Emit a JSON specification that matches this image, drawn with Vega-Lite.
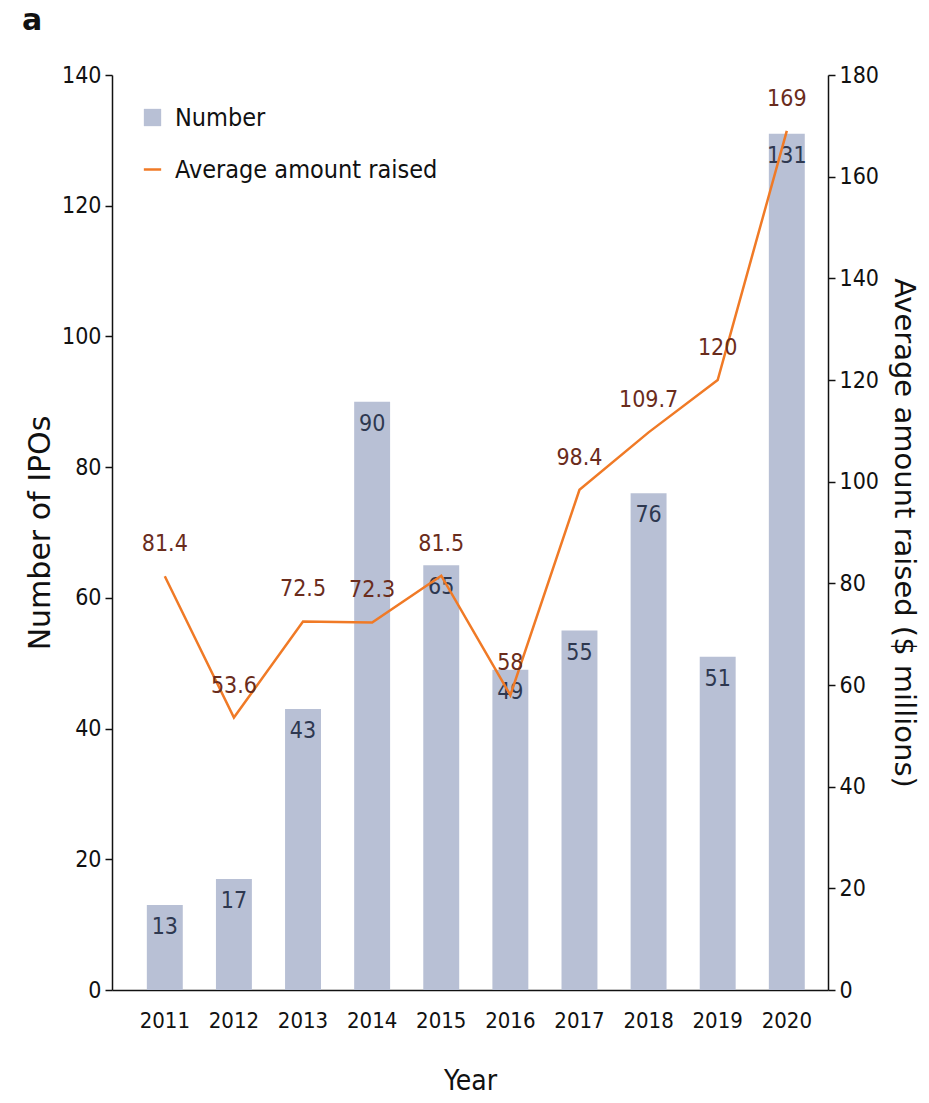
{
  "$schema": "https://vega.github.io/schema/vega-lite/v6.json",
  "width": 716,
  "height": 915,
  "autosize": {"type": "none"},
  "padding": {"left": 112, "top": 75, "right": 101, "bottom": 113},
  "background": "white",
  "title": {"text": "a", "anchor": "start", "frame": "group", "dx": -90, "offset": 28, "fontSize": 30, "fontWeight": "bold", "font": "DejaVu Sans", "color": "#111111"},
  "config": {
    "font": "DejaVu Sans Condensed, Liberation Sans",
    "view": {"stroke": null},
    "axis": {"labelFont": "DejaVu Sans Condensed, Liberation Sans", "titleFont": "DejaVu Sans Condensed, Liberation Sans", "labelFontSize": 23, "titleFontSize": 27, "titleFontWeight": "normal", "labelColor": "#111111", "titleColor": "#111111", "domainColor": "#111111", "tickColor": "#111111", "domainWidth": 1.5, "tickWidth": 1.5, "tickSize": 7, "grid": false},
    "legend": {"labelFont": "DejaVu Sans Condensed, Liberation Sans", "labelFontSize": 25, "labelColor": "#111111", "labelLimit": 500}
  },
  "data": {"values": [
    {"Year": "2011", "Number": 13, "Avg": 81.4},
    {"Year": "2012", "Number": 17, "Avg": 53.6},
    {"Year": "2013", "Number": 43, "Avg": 72.5},
    {"Year": "2014", "Number": 90, "Avg": 72.3},
    {"Year": "2015", "Number": 65, "Avg": 81.5},
    {"Year": "2016", "Number": 49, "Avg": 58},
    {"Year": "2017", "Number": 55, "Avg": 98.4},
    {"Year": "2018", "Number": 76, "Avg": 109.7},
    {"Year": "2019", "Number": 51, "Avg": 120},
    {"Year": "2020", "Number": 131, "Avg": 169}
  ]},
  "encoding": {
    "x": {"field": "Year", "type": "ordinal", "scale": {"paddingInner": 0.48, "paddingOuter": 0.42, "align": 0.6}, "axis": {"labelAngle": 0, "title": "Year", "titleFontSize": 28, "titlePadding": 36, "ticks": false, "labelPadding": 20, "labelFontSize": 22}}
  },
  "layer": [
    {
      "layer": [
        {
          "mark": {"type": "bar"},
          "encoding": {
            "y": {"field": "Number", "type": "quantitative", "scale": {"domain": [0, 140], "nice": false}, "axis": {"orient": "left", "title": "Number of IPOs", "titleFont": "DejaVu Sans, Liberation Sans", "titleFontSize": 30, "values": [0, 20, 40, 60, 80, 100, 120, 140], "titlePadding": 6, "labelPadding": 4}},
            "fill": {"datum": "Number", "type": "nominal", "scale": {"range": ["#b8c0d5"]}, "legend": {"title": null, "orient": "none", "legendX": 28, "legendY": 30, "symbolType": "square", "symbolSize": 300, "symbolStrokeWidth": 0, "labelOffset": 10}}
          }
        },
        {
          "mark": {"type": "text", "baseline": "top", "dy": 11, "fontSize": 23, "color": "#2e3850"},
          "encoding": {
            "y": {"field": "Number", "type": "quantitative"},
            "text": {"field": "Number", "type": "quantitative"}
          }
        }
      ]
    },
    {
      "layer": [
        {
          "mark": {"type": "line", "strokeWidth": 2.5},
          "encoding": {
            "y": {"field": "Avg", "type": "quantitative", "scale": {"domain": [0, 180], "nice": false}, "axis": {"orient": "right", "title": "Average amount raised ($ millions)", "titleFont": "DejaVu Sans, Liberation Sans", "titleFontSize": 29, "values": [0, 20, 40, 60, 80, 100, 120, 140, 160, 180], "titlePadding": 10, "labelPadding": 4}},
            "stroke": {"datum": "Average amount raised", "type": "nominal", "scale": {"range": ["#f07a26"]}, "legend": {"title": null, "orient": "none", "legendX": 28, "legendY": 82, "symbolType": "stroke", "symbolSize": 300, "symbolStrokeWidth": 2.5, "labelOffset": 10}}
          }
        },
        {
          "mark": {"type": "text", "baseline": "bottom", "dy": -20, "fontSize": 23, "color": "#6a2c1c"},
          "encoding": {
            "y": {"field": "Avg", "type": "quantitative"},
            "text": {"field": "Avg", "type": "quantitative"}
          }
        }
      ]
    }
  ],
  "resolve": {"scale": {"y": "independent"}}
}
